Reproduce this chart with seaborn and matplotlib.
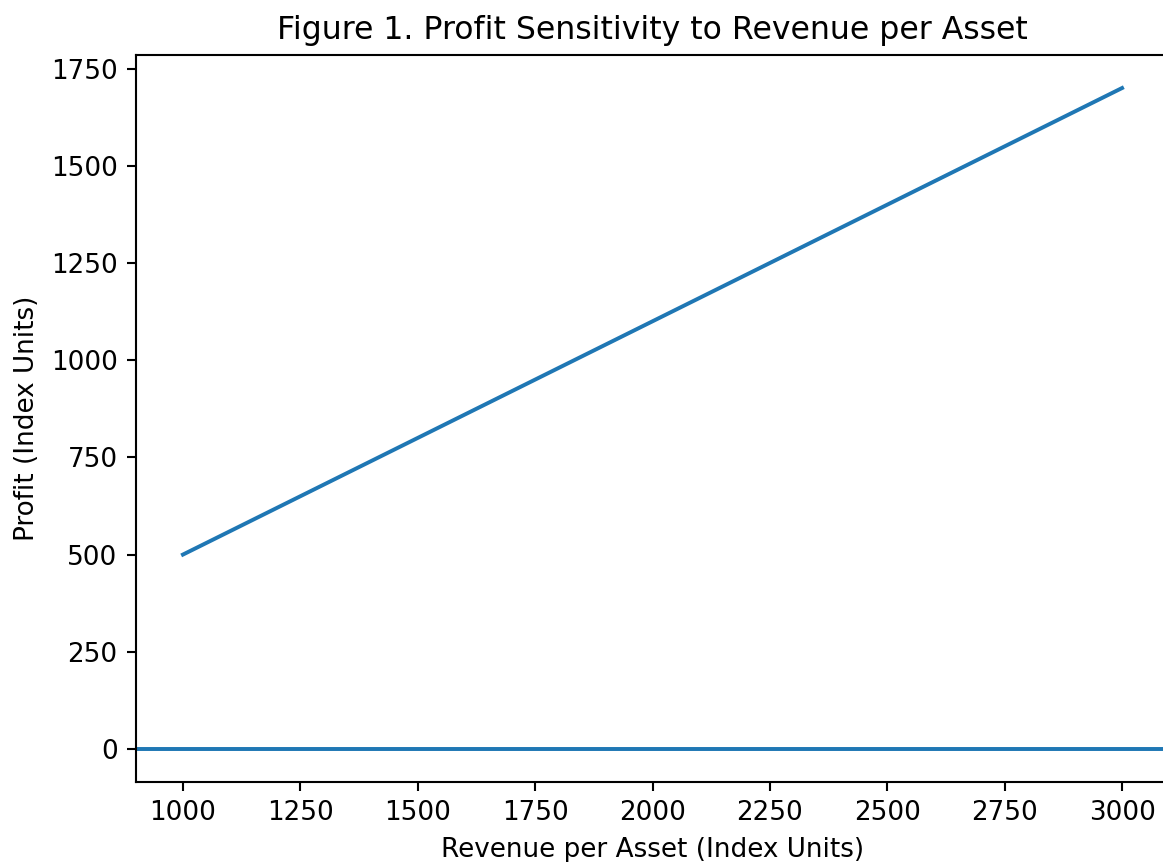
import matplotlib
matplotlib.use("Agg")
import matplotlib.pyplot as plt
import seaborn as sns
import pandas as pd

revenue = [1000, 3000]
profit = [500, 1700]
baseline = 0

title = "Figure 1. Profit Sensitivity to Revenue per Asset"
xlabel = "Revenue per Asset (Index Units)"
ylabel = "Profit (Index Units)"

plt.rcParams['font.family'] = ['DejaVu Sans']

dpi = 189
W, H = 1163, 862
fig = plt.figure(figsize=(W / dpi, H / dpi), dpi=dpi)
ax = fig.add_axes([136 / W, 1 - 782 / H, (1169 - 136) / W, (782 - 55) / H])

df = pd.DataFrame({"revenue": revenue, "profit": profit})
sns.lineplot(data=df, x="revenue", y="profit", ax=ax, color="#1f77b4", linewidth=1.5)
ax.axhline(baseline, color="#1f77b4", linewidth=1.5)

ax.set_title(title, fontsize=12)
ax.set_xlabel(xlabel, fontsize=10, labelpad=4)
ax.set_ylabel(ylabel, fontsize=10)
ax.tick_params(labelsize=10)
ax.set_xticks([1000, 1250, 1500, 1750, 2000, 2250, 2500, 2750, 3000])
ax.set_yticks([0, 250, 500, 750, 1000, 1250, 1500, 1750])

fig.savefig("out.png", dpi=dpi)
